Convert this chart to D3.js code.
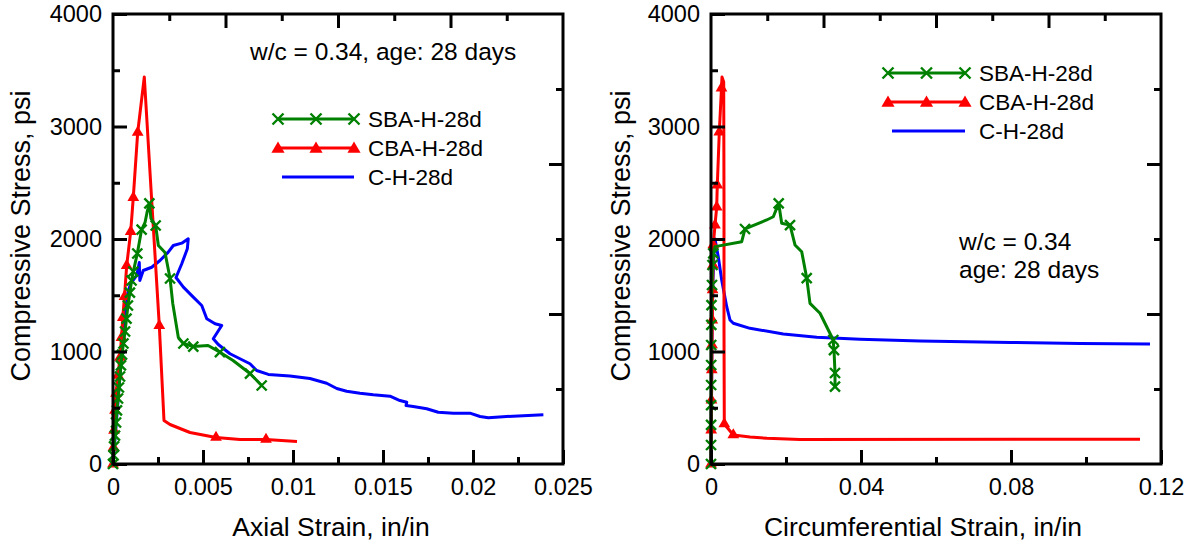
<!DOCTYPE html>
<html><head><meta charset="utf-8">
<script src="https://cdn.jsdelivr.net/npm/d3@7"></script>
<style>body{margin:0;background:#fff}</style>
</head><body><svg id="c" width="1195" height="548"></svg>
<script>
// ---------- DATA ----------
const seriesNames = ["SBA-H-28d", "CBA-H-28d", "C-H-28d"];
const seriesColors = ["#008000", "#ff0000", "#0000ff"];

const axialTicks = [0, 0.005, 0.01, 0.015, 0.02, 0.025];
const axialTickLabels = ["0", "0.005", "0.01", "0.015", "0.02", "0.025"];
const circTicks = [0, 0.04, 0.08, 0.12];
const circTickLabels = ["0", "0.04", "0.08", "0.12"];
const stressTicks = [0, 1000, 2000, 3000, 4000];
const stressTickLabels = ["0", "1000", "2000", "3000", "4000"];

// SBA-H-28d, axial
const sbaAxialStrain = [0,0.00003,0.00006,0.00011,0.00017,0.00022,0.00028,0.00033,0.00039,0.00044,0.0005,0.00058,0.00067,0.00075,0.00083,0.00094,0.00103,0.00113,0.00135,0.00159,0.00178,0.00189,0.00202,0.00211,0.00237,0.00252,0.00289,0.00317,0.00332,0.00363,0.00391,0.00446,0.00528,0.00594,0.00667,0.00761,0.00826];
const sbaAxialStress = [0,76,156,253,369,476,582,680,778,876,973,1071,1178,1293,1409,1524,1631,1711,1871,2084,2147,2236,2316,2182,2120,1942,1880,1649,1427,1124,1071,1044,1053,994,920,804,698];
const sbaAxialMarks = [0,1,2,3,4,5,6,7,8,9,10,11,12,13,14,15,16,17,18,19,22,24,27,30,31,33,35,36];

// CBA-H-28d, axial
const cbaAxialStrain = [0,0.000028,0.000056,0.000111,0.000167,0.000278,0.000389,0.000472,0.000544,0.000639,0.000761,0.000983,0.001128,0.001372,0.001739,0.00215,0.002572,0.002833,0.003167,0.004278,0.005722,0.007056,0.0085,0.010222];
const cbaAxialStress = [0,147,298,476,627,787,947,1124,1302,1489,1764,2066,2369,2947,3440,2342,1231,387,351,280,236,218,218,200];
const cbaAxialMarks = [0,1,2,3,4,5,6,7,8,9,10,11,12,13,16,20,22];

// C-H-28d, axial
const chAxialStrain = [0,0.00028,0.0005,0.00067,0.00083,0.00098,0.00132,0.00146,0.00149,0.00168,0.00215,0.00261,0.00307,0.00335,0.00382,0.00418,0.00413,0.00382,0.0035,0.00391,0.00446,0.00493,0.00521,0.00567,0.00604,0.00557,0.00585,0.0065,0.00761,0.00798,0.00863,0.00983,0.01094,0.01187,0.01243,0.01298,0.01372,0.01446,0.01539,0.01594,0.01632,0.01628,0.01668,0.01743,0.01807,0.01891,0.01983,0.02039,0.02085,0.02187,0.02391];
const chAxialStress = [0,564,1009,1347,1524,1604,1676,1791,1631,1720,1749,1809,1883,1942,1963,2002,1913,1780,1658,1572,1483,1409,1291,1246,1231,1113,1062,980,891,831,796,782,760,718,671,647,629,615,603,564,549,520,511,491,460,452,452,422,411,422,437];

// SBA-H-28d, circumferential
const sbaCircStrain = [0,0.00001,0.00002,0.00003,0.00004,0.00005,0.00006,0.00008,0.00013,0.00027,0.0004,0.00061,0.00107,0.00819,0.00907,0.01485,0.01661,0.01805,0.01885,0.02107,0.0224,0.02419,0.02552,0.0264,0.02907,0.03128,0.03261,0.03267,0.0328,0.03307,0.03307,0.03307];
const sbaCircStress = [0,169,347,524,702,880,1058,1236,1413,1591,1769,1873,1932,1976,2089,2169,2198,2317,2140,2124,1947,1887,1653,1428,1340,1191,1102,1058,1013,809,747,687];
const sbaCircMarks = [0,1,2,3,4,5,6,7,8,9,10,11,14,17,19,22,26,28,29,31];

// CBA-H-28d, circumferential
const cbaCircStrain = [0,0.000053,0.000133,0.000213,0.000267,0.000347,0.000427,0.000533,0.000613,0.001067,0.00152,0.00168,0.002213,0.0028,0.002933,0.003387,0.003467,0.003467,0.003547,0.005947,0.0104,0.014933,0.023733,0.1144];
const cbaCircStress = [0,302,569,836,1058,1280,1547,1769,1947,2124,2284,2480,2951,3342,3440,3396,2347,1191,356,258,240,228,218,220];
const cbaCircMarks = [0,1,2,3,4,5,6,7,8,9,10,11,12,13,18,19];

// C-H-28d, circumferential
const chCircStrain = [0,0.00013,0.00027,0.00053,0.0008,0.00107,0.00195,0.00285,0.00419,0.00507,0.00595,0.0104,0.01928,0.02819,0.03973,0.05573,0.08,0.0984,0.11707];
const chCircStress = [0,569,1191,1636,1902,2000,1840,1636,1398,1280,1251,1206,1156,1126,1108,1093,1080,1071,1067];

// ---------- DRAWING ----------
const FONT = "'Liberation Sans', Arial, Helvetica, sans-serif";
const svg = d3.select("#c");

function xMarker(g, cx, cy, color, r) {
  g.append("path").attr("d", `M${cx-r},${cy-r}L${cx+r},${cy+r}M${cx-r},${cy+r}L${cx+r},${cy-r}`)
    .attr("stroke", color).attr("stroke-width", 2.4).attr("fill", "none");
}
function triMarker(g, cx, cy, color, size) {
  g.append("path").attr("d", d3.symbol().type(d3.symbolTriangle).size(size)())
    .attr("transform", `translate(${cx},${cy})`).attr("fill", color);
}

function panel(o) {
  const x = d3.scaleLinear().domain([0, o.xMax]).range([o.x0, o.x0 + 450]);
  const y = d3.scaleLinear().domain([0, 4000]).range([464, 14]);
  const g = svg.append("g");

  // series, drawn bottom to top: C, CBA, SBA
  const line = d3.line().x(d => x(d[0])).y(d => y(d[1]));
  [2, 1, 0].forEach(i => {
    const s = o.series[i];
    const pts = s.strain.map((v, k) => [v, s.stress[k]]);
    g.append("path").datum(pts).attr("d", line).attr("fill", "none")
      .attr("stroke", seriesColors[i]).attr("stroke-width", 3).attr("stroke-linejoin", "round");
    (s.marks || []).forEach(k => {
      if (i === 0) xMarker(g, x(pts[k][0]), y(pts[k][1]), seriesColors[i], 5);
      else triMarker(g, x(pts[k][0]), y(pts[k][1]), seriesColors[i], 60);
    });
  });

  // frame
  g.append("rect").attr("x", x.range()[0]).attr("y", y.range()[1])
    .attr("width", x.range()[1] - x.range()[0]).attr("height", y.range()[0] - y.range()[1])
    .attr("fill", "none").attr("stroke", "#000").attr("stroke-width", 3);

  const style = sel => {
    sel.select(".domain").remove();
    sel.selectAll(".tick line").attr("stroke", "#000").attr("stroke-width", 3);
    sel.selectAll(".tick text").attr("font-family", FONT).attr("font-size", 23.5).attr("fill", "#000");
  };

  // bottom axis
  g.append("g").attr("transform", "translate(0,464)")
    .call(d3.axisBottom(x).tickValues(o.xTicks).tickSize(-14).tickPadding(14)
      .tickFormat((d, i) => o.xLabels[i])).call(style);
  g.append("g").attr("transform", "translate(0,464)")
    .call(d3.axisBottom(x).tickValues(o.xMinor).tickSize(-7).tickFormat("")).call(style);
  // left axis
  g.append("g").attr("transform", `translate(${o.x0},0)`)
    .call(d3.axisLeft(y).tickValues(stressTicks).tickSize(-14).tickPadding(11)
      .tickFormat((d, i) => stressTickLabels[i])).call(style);
  g.append("g").attr("transform", `translate(${o.x0},0)`)
    .call(d3.axisLeft(y).tickValues([500, 1500, 2500, 3500]).tickSize(-7).tickFormat("")).call(style);
  // top axis (secondary, 8 divisions)
  const xt = d3.scaleLinear().domain([0, 8]).range(x.range());
  g.append("g").attr("transform", "translate(0,14)")
    .call(d3.axisTop(xt).tickValues([2, 4, 6]).tickSize(-14).tickFormat("")).call(style);
  g.append("g").attr("transform", "translate(0,14)")
    .call(d3.axisTop(xt).tickValues([1, 3, 5, 7]).tickSize(-7).tickFormat("")).call(style);
  // right axis (secondary, 6 divisions)
  const yr = d3.scaleLinear().domain([0, 6]).range(y.range());
  g.append("g").attr("transform", `translate(${o.x0 + 450},0)`)
    .call(d3.axisRight(yr).tickValues([2, 4]).tickSize(-14).tickFormat("")).call(style);
  g.append("g").attr("transform", `translate(${o.x0 + 450},0)`)
    .call(d3.axisRight(yr).tickValues([1, 3, 5]).tickSize(-7).tickFormat("")).call(style);

  // titles
  g.append("text").attr("x", o.xTitleX).attr("y", 536).attr("text-anchor", "middle")
    .attr("font-family", FONT).attr("font-size", 26.5).text(o.xTitle);
  g.append("text").attr("transform", `translate(${o.yTitleX},236) rotate(-90)`)
    .attr("text-anchor", "middle").attr("dy", "0.36em")
    .attr("font-family", FONT).attr("font-size", 27).text("Compressive Stress, psi");

  // legend
  const L = o.legend;
  [0, 1, 2].forEach(i => {
    const ly = L.y + i * L.dy;
    const lx0 = i === 2 ? L.x0 + 4 : L.x0;
    g.append("line").attr("x1", lx0).attr("x2", L.x1).attr("y1", ly).attr("y2", ly)
      .attr("stroke", seriesColors[i]).attr("stroke-width", 3);
    if (i < 2) [L.x0, (L.x0 + L.x1) / 2, L.x1].forEach(mx => {
      if (i === 0) xMarker(g, mx, ly, seriesColors[0], 5.5); else triMarker(g, mx, ly + 1, seriesColors[1], 75);
    });
    g.append("text").attr("x", L.tx).attr("y", ly + 8).attr("font-family", FONT)
      .attr("font-size", 22.5).text(seriesNames[i]);
  });
  // annotations
  o.notes.forEach(n => {
    g.append("text").attr("x", n.x).attr("y", n.y).attr("font-family", FONT)
      .attr("font-size", 24.5).text(n.t);
  });
}

panel({
  x0: 113, xMax: 0.025, xTicks: axialTicks, xLabels: axialTickLabels,
  xMinor: [0.0025, 0.0075, 0.0125, 0.0175, 0.0225],
  xTitle: "Axial Strain, in/in", xTitleX: 331, yTitleX: 20,
  series: [
    {strain: sbaAxialStrain, stress: sbaAxialStress, marks: sbaAxialMarks},
    {strain: cbaAxialStrain, stress: cbaAxialStress, marks: cbaAxialMarks},
    {strain: chAxialStrain, stress: chAxialStress}
  ],
  legend: {x0: 278, x1: 354, y: 119, dy: 29, tx: 368},
  notes: [{x: 250, y: 60, t: "w/c = 0.34, age: 28 days"}]
});
panel({
  x0: 711, xMax: 0.12, xTicks: circTicks, xLabels: circTickLabels,
  xMinor: [0.02, 0.06, 0.1],
  xTitle: "Circumferential Strain, in/in", xTitleX: 923, yTitleX: 620,
  series: [
    {strain: sbaCircStrain, stress: sbaCircStress, marks: sbaCircMarks},
    {strain: cbaCircStrain, stress: cbaCircStress, marks: cbaCircMarks},
    {strain: chCircStrain, stress: chCircStress}
  ],
  legend: {x0: 888, x1: 965, y: 73, dy: 29, tx: 979},
  notes: [{x: 959, y: 250, t: "w/c = 0.34"}, {x: 959, y: 278, t: "age: 28 days"}]
});
</script></body></html>
